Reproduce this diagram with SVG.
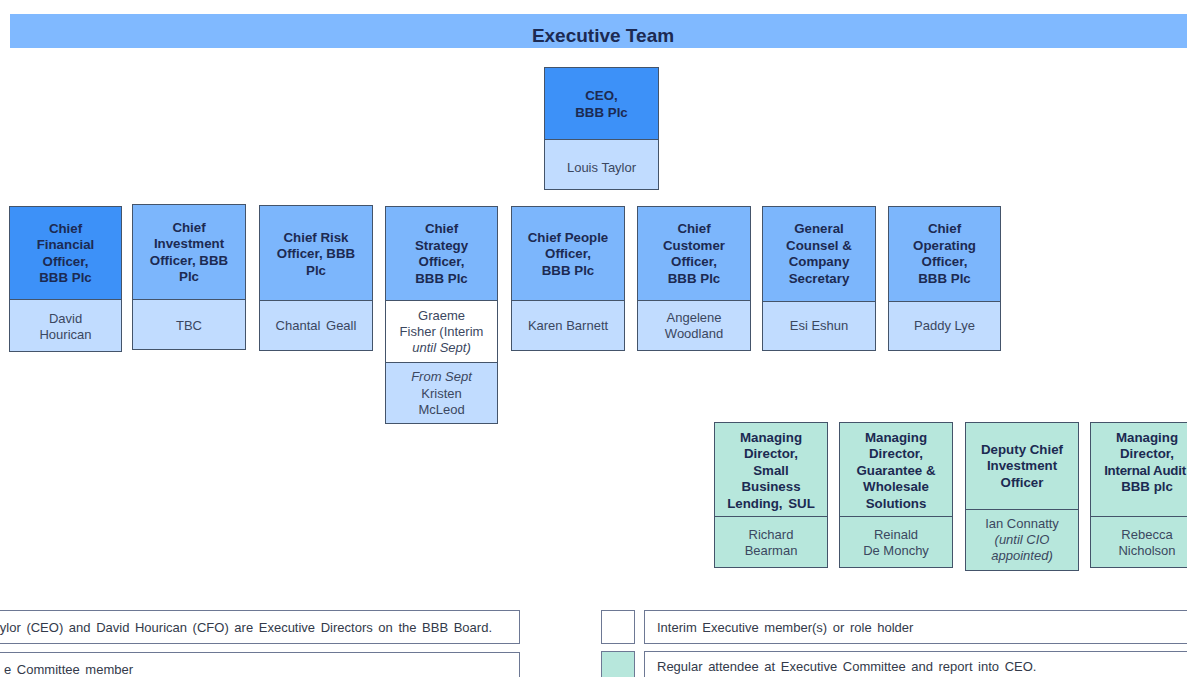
<svg xmlns="http://www.w3.org/2000/svg" width="1187" height="677" viewBox="0 0 1187 677">
<style>
  text { font-family: "Liberation Sans", Arial, sans-serif; }
  .hdr { fill: #80b9ff; }
  .hdrt { font-size: 19px; font-weight: bold; fill: #1c2a52; text-anchor: middle; }
  .dark { fill: #3d91f8; stroke: #44546a; stroke-width: 1; }
  .mid { fill: #7cb6fc; stroke: #44546a; stroke-width: 1; }
  .light { fill: #c1dcff; stroke: #44546a; stroke-width: 1; }
  .white { fill: #ffffff; stroke: #44546a; stroke-width: 1; }
  .teal { fill: #b7e7dc; stroke: #44546a; stroke-width: 1; }
  .t { font-size: 13.3px; font-weight: bold; fill: #1c2a52; text-anchor: middle; }
  .n { font-size: 13px; fill: #3b4760; text-anchor: middle; }
  .i { font-style: italic; }
  .lg { fill: #ffffff; stroke: #6d7894; stroke-width: 1; }
  .lgt { fill: #b7e7dc; stroke: #6d7894; stroke-width: 1; }
  .l { font-size: 13px; fill: #333a4a; word-spacing: 2px; }
</style>

<g id="header">
  <rect class="hdr" x="10" y="14" width="1180" height="34"/>
  <text class="hdrt" x="603" y="41.5">Executive Team</text>
</g>

<g id="connectors"></g>

<g id="ceo">
  <rect class="dark" x="544.5" y="67.5" width="114" height="72"/>
  <rect class="light" x="544.5" y="139.5" width="114" height="50"/>
  <text class="t" x="601.5" y="99.5">CEO,</text>
  <text class="t" x="601.5" y="116.5">BBB Plc</text>
  <text class="n" x="601.5" y="171.5">Louis Taylor</text>
</g>

<g id="cfo">
  <rect class="dark" x="9.5" y="206.5" width="112" height="93"/>
  <rect class="light" x="9.5" y="299.5" width="112" height="52"/>
  <text class="t" x="65.5" y="232.5">Chief</text>
  <text class="t" x="65.5" y="249">Financial</text>
  <text class="t" x="65.5" y="265.5">Officer,</text>
  <text class="t" x="65.5" y="282">BBB Plc</text>
  <text class="n" x="65.5" y="322.5">David</text>
  <text class="n" x="65.5" y="338.5">Hourican</text>
</g>

<g id="cio">
  <rect class="mid" x="132.5" y="204.5" width="113" height="95"/>
  <rect class="light" x="132.5" y="299.5" width="113" height="50"/>
  <text class="t" x="189" y="231.5">Chief</text>
  <text class="t" x="189" y="248">Investment</text>
  <text class="t" x="189" y="264.5">Officer, BBB</text>
  <text class="t" x="189" y="281">Plc</text>
  <text class="n" x="189" y="329.5">TBC</text>
</g>

<g id="cro">
  <rect class="mid" x="259.5" y="205.5" width="113" height="95"/>
  <rect class="light" x="259.5" y="300.5" width="113" height="50"/>
  <text class="t" x="316" y="241.5">Chief Risk</text>
  <text class="t" x="316" y="258">Officer, BBB</text>
  <text class="t" x="316" y="274.5">Plc</text>
  <text class="n" x="316" y="330" word-spacing="2">Chantal Geall</text>
</g>

<g id="cso">
  <rect class="mid" x="385.5" y="206.5" width="112" height="94"/>
  <rect class="white" x="385.5" y="300.5" width="112" height="62"/>
  <rect class="light" x="385.5" y="362.5" width="112" height="61"/>
  <text class="t" x="441.5" y="233">Chief</text>
  <text class="t" x="441.5" y="249.5">Strategy</text>
  <text class="t" x="441.5" y="266">Officer,</text>
  <text class="t" x="441.5" y="282.5">BBB Plc</text>
  <text class="n" x="441.5" y="320">Graeme</text>
  <text class="n" x="441.5" y="336">Fisher (Interim</text>
  <text class="n i" x="441.5" y="352">until Sept)</text>
  <text class="n i" x="441.5" y="381">From Sept</text>
  <text class="n" x="441.5" y="397.5">Kristen</text>
  <text class="n" x="441.5" y="414">McLeod</text>
</g>

<g id="cpo">
  <rect class="mid" x="511.5" y="206.5" width="113" height="94"/>
  <rect class="light" x="511.5" y="300.5" width="113" height="50"/>
  <text class="t" x="568" y="241.5">Chief People</text>
  <text class="t" x="568" y="258">Officer,</text>
  <text class="t" x="568" y="274.5">BBB Plc</text>
  <text class="n" x="568" y="330">Karen Barnett</text>
</g>

<g id="cco">
  <rect class="mid" x="637.5" y="206.5" width="113" height="94"/>
  <rect class="light" x="637.5" y="300.5" width="113" height="50"/>
  <text class="t" x="694" y="233">Chief</text>
  <text class="t" x="694" y="249.5">Customer</text>
  <text class="t" x="694" y="266">Officer,</text>
  <text class="t" x="694" y="282.5">BBB Plc</text>
  <text class="n" x="694" y="322">Angelene</text>
  <text class="n" x="694" y="338">Woodland</text>
</g>

<g id="gc">
  <rect class="mid" x="762.5" y="206.5" width="113" height="95"/>
  <rect class="light" x="762.5" y="301.5" width="113" height="49"/>
  <text class="t" x="819" y="233">General</text>
  <text class="t" x="819" y="249.5">Counsel &amp;</text>
  <text class="t" x="819" y="266">Company</text>
  <text class="t" x="819" y="282.5">Secretary</text>
  <text class="n" x="819" y="330">Esi Eshun</text>
</g>

<g id="coo">
  <rect class="mid" x="888.5" y="206.5" width="112" height="95"/>
  <rect class="light" x="888.5" y="301.5" width="112" height="49"/>
  <text class="t" x="944.5" y="233">Chief</text>
  <text class="t" x="944.5" y="249.5">Operating</text>
  <text class="t" x="944.5" y="266">Officer,</text>
  <text class="t" x="944.5" y="282.5">BBB Plc</text>
  <text class="n" x="944.5" y="330">Paddy Lye</text>
</g>

<g id="md-sul">
  <rect class="teal" x="714.5" y="422.5" width="113" height="94"/>
  <rect class="teal" x="714.5" y="516.5" width="113" height="51"/>
  <text class="t" x="771" y="441.5">Managing</text>
  <text class="t" x="771" y="458">Director,</text>
  <text class="t" x="771" y="474.5">Small</text>
  <text class="t" x="771" y="491">Business</text>
  <text class="t" x="771" y="507.5" word-spacing="2">Lending, SUL</text>
  <text class="n" x="771" y="538.5">Richard</text>
  <text class="n" x="771" y="554.5">Bearman</text>
</g>

<g id="md-gws">
  <rect class="teal" x="839.5" y="422.5" width="113" height="94"/>
  <rect class="teal" x="839.5" y="516.5" width="113" height="51"/>
  <text class="t" x="896" y="441.5">Managing</text>
  <text class="t" x="896" y="458">Director,</text>
  <text class="t" x="896" y="474.5">Guarantee &amp;</text>
  <text class="t" x="896" y="491">Wholesale</text>
  <text class="t" x="896" y="507.5">Solutions</text>
  <text class="n" x="896" y="538.5">Reinald</text>
  <text class="n" x="896" y="554.5">De Monchy</text>
</g>

<g id="dcio">
  <rect class="teal" x="965.5" y="422.5" width="113" height="87"/>
  <rect class="teal" x="965.5" y="509.5" width="113" height="61"/>
  <text class="t" x="1022" y="453.5">Deputy Chief</text>
  <text class="t" x="1022" y="470">Investment</text>
  <text class="t" x="1022" y="486.5">Officer</text>
  <text class="n" x="1022" y="527.5">Ian Connatty</text>
  <text class="n i" x="1022" y="544">(until CIO</text>
  <text class="n i" x="1022" y="560">appointed)</text>
</g>

<g id="md-ia">
  <rect class="teal" x="1090.5" y="422.5" width="114" height="94"/>
  <rect class="teal" x="1090.5" y="516.5" width="114" height="51"/>
  <text class="t" x="1147" y="441.5">Managing</text>
  <text class="t" x="1147" y="458">Director,</text>
  <text class="t" x="1145" y="474.5" letter-spacing="-0.25">Internal Audit</text>
  <text class="t" x="1147" y="491">BBB plc</text>
  <text class="n" x="1147" y="538.5">Rebecca</text>
  <text class="n" x="1147" y="554.5">Nicholson</text>
</g>

<g id="legend">
  <rect class="lg" x="-5" y="610.5" width="524.5" height="33"/>
  <text class="l" x="492" y="631.5" text-anchor="end">ylor (CEO) and David Hourican (CFO) are Executive Directors on the BBB Board.</text>
  <rect class="lg" x="-5" y="652.5" width="524.5" height="40"/>
  <text class="l" x="133" y="673.5" text-anchor="end">e Committee member</text>

  <rect class="lg" x="601.5" y="610.5" width="33" height="33"/>
  <rect class="lg" x="644.5" y="610.5" width="560" height="33"/>
  <text class="l" x="657" y="631.5">Interim Executive member(s) or role holder</text>
  <rect class="lgt" x="601.5" y="651.5" width="33" height="40"/>
  <rect class="lg" x="644.5" y="651.5" width="560" height="40"/>
  <text class="l" x="657" y="670.5">Regular attendee at Executive Committee and report into CEO.</text>
</g>
</svg>
